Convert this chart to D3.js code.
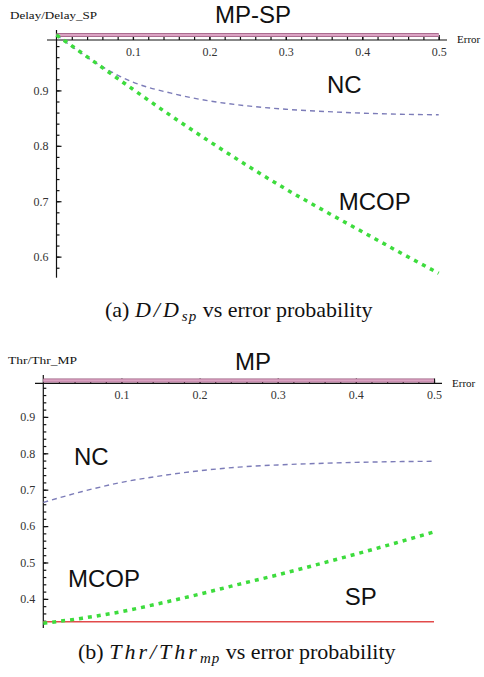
<!DOCTYPE html>
<html lang="en">
<head>
<meta charset="UTF-8">
<title>D/Dsp and Thr/Thrmp vs error probability</title>
<script src="https://d3js.org/d3.v7.min.js"></script>
<style>
    body { margin: 0; background: #fff; }
    .tick text { font-family: "Liberation Serif", serif; font-size: 12px; fill: #333; }
    .domain, .tick line { stroke: #111; stroke-width: 1.2; }
    .curveLabel { font-family: "Liberation Sans", Arial, sans-serif; font-size: 24px; fill: #111; }
    .axisName { font-family: "Liberation Serif", serif; font-size: 11px; fill: #111; }
    .caption { font-family: "Liberation Serif", serif; font-size: 22px; fill: #111; }
    .math { font-style: italic; letter-spacing: 3px; }
    .sub { font-style: italic; font-size: 15px; letter-spacing: 1px; }
</style>
</head>
<body>
<svg width="484" height="677"></svg>
<script>
    // error probability samples
    const errorProb = [0, 0.05, 0.1, 0.15, 0.2, 0.25, 0.3, 0.35, 0.4, 0.45, 0.5];

    // (a) delay normalised to single path
    const delayMPSP = [1, 1, 1, 1, 1, 1, 1, 1, 1, 1, 1];
    const delayNC = [1.0, 0.951, 0.915, 0.895, 0.881, 0.872, 0.866, 0.862, 0.859, 0.857, 0.856];
    const delayMCOP = [1.0, 0.951, 0.902, 0.854, 0.808, 0.764, 0.722, 0.683, 0.645, 0.607, 0.570];

    // (b) throughput normalised to multipath
    const thrMP = [1, 1, 1, 1, 1, 1, 1, 1, 1, 1, 1];
    const thrNC = [0.665, 0.695, 0.72, 0.738, 0.752, 0.762, 0.768, 0.772, 0.775, 0.777, 0.778];
    const thrMCOP = [0.333, 0.347, 0.365, 0.388, 0.413, 0.44, 0.466, 0.494, 0.523, 0.553, 0.584];
    const thrSP = [0.337, 0.337, 0.337, 0.337, 0.337, 0.337, 0.337, 0.337, 0.337, 0.337, 0.337];

    const xTicks = [0.1, 0.2, 0.3, 0.4, 0.5];
    const delayTicks = [0.6, 0.7, 0.8, 0.9];
    const thrTicks = [0.4, 0.5, 0.6, 0.7, 0.8, 0.9];

    const svg = d3.select("svg");

    function drawPanel(p) {
        const g = svg.append("g");
        const x = d3.scaleLinear().domain([0, 0.5]).range(p.xRange);
        const y = d3.scaleLinear().domain(p.yDomain).range(p.yRange);
        const axisY = y(p.axisAt);

        // minor ticks every 0.02
        g.append("g").attr("transform", `translate(0,${axisY})`)
            .call(d3.axisBottom(x).tickValues(d3.range(0.02, 0.501, 0.02)).tickSize(-3).tickFormat(""))
            .call(s => s.select(".domain").remove());
        g.append("g").attr("transform", `translate(${x(0)},0)`)
            .call(d3.axisLeft(y).tickValues(d3.range(p.minorFrom, 1.0001, 0.02)).tickSize(-3).tickFormat(""))
            .call(s => s.select(".domain").remove());

        // major ticks + labels
        const xa = g.append("g").attr("transform", `translate(0,${axisY})`)
            .call(d3.axisBottom(x).tickValues(xTicks).tickSizeInner(-5).tickSizeOuter(0).tickPadding(7).tickFormat(d3.format(".1f")));
        xa.select(".domain").attr("d", `M${p.xAxisStart},0H${p.xAxisEnd}`);
        const ya = g.append("g").attr("transform", `translate(${x(0)},0)`)
            .call(d3.axisLeft(y).tickValues(p.yTicks).tickSizeInner(-5).tickSizeOuter(0).tickPadding(8).tickFormat(d3.format(".1f")));
        ya.select(".domain").attr("d", `M0,${p.yAxisTop}V${y(p.yDomain[0])}`);

        const line = d3.line().x((d, i) => x(errorProb[i])).y(d => y(d)).curve(d3.curveMonotoneX);

        // reference line at 1 (pink band)
        g.append("path").datum(p.top).attr("d", line).attr("fill", "none")
            .attr("stroke", "#9a5a7e").attr("stroke-width", 4);
        g.append("path").datum(p.top).attr("d", line).attr("fill", "none")
            .attr("stroke", "#dba3c3").attr("stroke-width", 2.4);

        if (p.sp) {
            g.append("path").datum(p.sp).attr("d", line).attr("fill", "none")
                .attr("stroke", "#e24a4a").attr("stroke-width", 1.5);
        }
        g.append("path").datum(p.nc).attr("d", line).attr("fill", "none")
            .attr("stroke", "#7c7cb8").attr("stroke-width", 1.4).attr("stroke-dasharray", "5,4");
        g.append("path").datum(p.mcop).attr("d", line).attr("fill", "none")
            .attr("stroke", "#3ddc3d").attr("stroke-width", 3.5).attr("stroke-dasharray", "4,5");

        g.append("text").attr("class", "axisName").attr("x", p.yName[1]).attr("y", p.yName[2])
            .attr("textLength", p.yName[3]).attr("lengthAdjust", "spacingAndGlyphs").text(p.yName[0]);
        g.append("text").attr("class", "axisName").attr("x", p.errorPos[0]).attr("y", p.errorPos[1]).text("Error");

        g.append("text").attr("class", "curveLabel").attr("x", 253).attr("y", p.titleY)
            .attr("text-anchor", "middle").text(p.title);
        p.labels.forEach(l => {
            g.append("text").attr("class", "curveLabel").attr("x", l[1]).attr("y", l[2]).text(l[0]);
        });
    }

    drawPanel({
        xRange: [56.5, 438.7], yDomain: [0.562, 1.0], yRange: [277.7, 35], axisAt: 0.991,
        xAxisStart: 47, xAxisEnd: 447, yAxisTop: 30, minorFrom: 0.58,
        yTicks: delayTicks, top: delayMPSP, nc: delayNC, mcop: delayMCOP, sp: null,
        yName: ["Delay/Delay_SP", 10, 19, 87], errorPos: [457, 43],
        title: "MP-SP", titleY: 22.7,
        labels: [["NC", 327, 93], ["MCOP", 338.7, 210]]
    });

    drawPanel({
        xRange: [43.3, 434], yDomain: [0.32, 1.0], yRange: [628, 380.5], axisAt: 0.992,
        xAxisStart: 35, xAxisEnd: 442, yAxisTop: 375, minorFrom: 0.34,
        yTicks: thrTicks, top: thrMP, nc: thrNC, mcop: thrMCOP, sp: thrSP,
        yName: ["Thr/Thr_MP", 8, 364, 69], errorPos: [452, 387],
        title: "MP", titleY: 370,
        labels: [["NC", 74, 465], ["MCOP", 68, 587], ["SP", 344.7, 605]]
    });

    // captions
    const capA = svg.append("text").attr("class", "caption").attr("x", 105).attr("y", 317);
    capA.append("tspan").text("(a) ");
    capA.append("tspan").attr("class", "math").text("D/D");
    capA.append("tspan").attr("class", "sub").attr("dy", 4).text("sp");
    capA.append("tspan").attr("dy", -4).text(" vs error probability");

    const capB = svg.append("text").attr("class", "caption").attr("x", 78).attr("y", 659);
    capB.append("tspan").text("(b) ");
    capB.append("tspan").attr("class", "math").text("Thr/Thr");
    capB.append("tspan").attr("class", "sub").attr("dy", 4).text("mp");
    capB.append("tspan").attr("dy", -4).text(" vs error probability");
</script>
</body>
</html>
